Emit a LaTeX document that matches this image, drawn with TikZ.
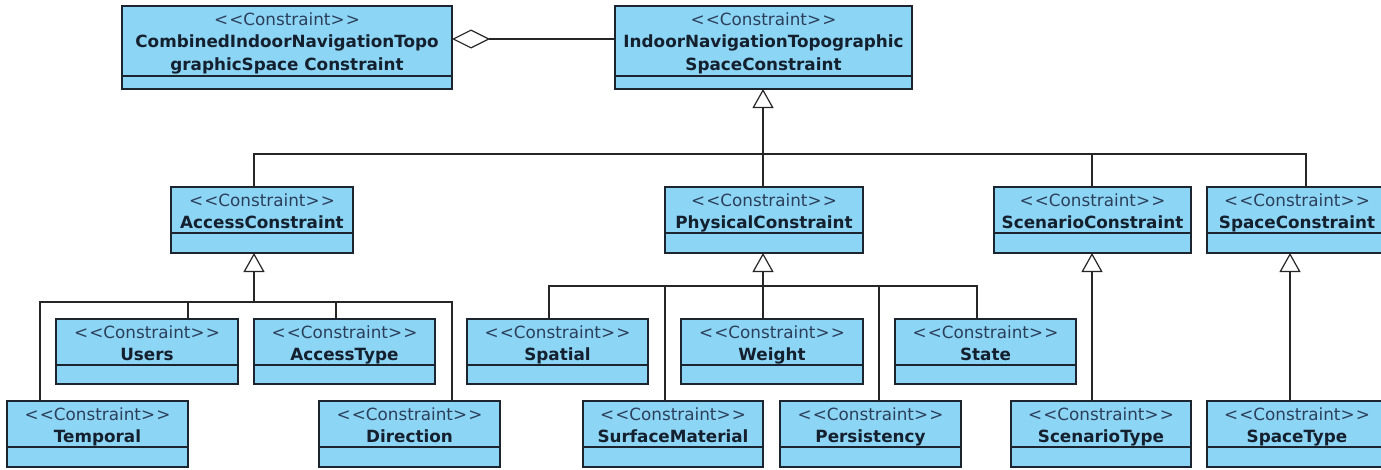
\documentclass[tikz,border=0pt]{standalone}
\usepackage{fontspec}
\newfontfamily\umlfont{DejaVu Sans}
\usetikzlibrary{arrows.meta}

\definecolor{classfill}{HTML}{8DD5F5}
\definecolor{classedge}{HTML}{1C2430}
\definecolor{stereo}{HTML}{2B3F5A}
\definecolor{classname}{HTML}{14202E}

\tikzset{
  classbox/.style={draw=classedge, fill=classfill, line width=1.3pt, inner sep=0pt, outer sep=0pt},
  compartment/.style={draw=classedge, line width=1.1pt},
  stereotext/.style={anchor=base, inner sep=0pt, text=stereo, font=\umlfont\fontsize{16.8}{20}\selectfont},
  nametext/.style={anchor=base, inner sep=0pt, text=classname, font=\umlfont\fontsize{16.8}{20}\selectfont\bfseries},
  link/.style={draw=black!85, line width=1.2pt},
  inherit/.style={link, -{Triangle[length=19pt, width=21pt, fill=white]}},
  aggregate/.style={link, -{Diamond[length=38pt, width=19pt, fill=white]}},
}

% class box: name, left, top, right, bottom, compartment line, name lines
\newcommand{\umlclass}[7]{%
  \node[classbox, minimum width={#4-#2}, minimum height={#5-#3}] (#1) at ({(#2+#4)/2},{(#3+#5)/2}) {};
  \draw[compartment] (#1.west |- 0,#6) -- (#1.east |- 0,#6);
  \node[stereotext] (#1-st) at ({(#2+#4)/2},{#3+19}) {<\kern1.2pt<Constraint>\kern1.2pt>};
  \foreach \nm [count=\k] in {#7} {\node[nametext] (#1-nm\k) at ({(#2+#4)/2},{#3+19+22.5*\k}) {\nm};}
}

\begin{document}
\begin{tikzpicture}[x=1pt, y=-1pt]
  \useasboundingbox[fill=white] (0,0) rectangle (1381,469);

  % top level
  \umlclass{combined}{122}{6}{452}{89}{76}{CombinedIndoorNavigationTopo, graphicSpace Constraint}
  \umlclass{indoor}{615}{6}{912}{89}{76}{IndoorNavigationTopographic, SpaceConstraint}

  % second level
  \umlclass{access}{171}{187}{353}{253}{233}{AccessConstraint}
  \umlclass{physical}{665}{187}{863}{253}{233}{PhysicalConstraint}
  \umlclass{scenario}{994}{187}{1191}{253}{233}{ScenarioConstraint}
  \umlclass{space}{1207}{187}{1387}{253}{233}{SpaceConstraint}

  % third level, upper row
  \umlclass{users}{56}{319}{238}{384}{365}{Users}
  \umlclass{accesstype}{254}{319}{435}{384}{365}{AccessType}
  \umlclass{spatial}{467}{319}{648}{384}{365}{Spatial}
  \umlclass{weight}{681}{319}{863}{384}{365}{Weight}
  \umlclass{state}{895}{319}{1076}{384}{365}{State}

  % third level, lower row
  \umlclass{temporal}{7}{401}{188}{467}{447}{Temporal}
  \umlclass{direction}{319}{401}{500}{467}{447}{Direction}
  \umlclass{surface}{583}{401}{763}{467}{447}{SurfaceMaterial}
  \umlclass{persistency}{780}{401}{961}{467}{447}{Persistency}
  \umlclass{scenariotype}{1011}{401}{1191}{467}{447}{ScenarioType}
  \umlclass{spacetype}{1207}{401}{1387}{467}{447}{SpaceType}

  % aggregation
  \draw[aggregate] (indoor.west |- 0,39) -- (combined.east |- 0,39);

  % generalisations to the topographic space constraint
  \coordinate (topbus) at (763,154);
  \draw[inherit] (topbus) -- (topbus |- indoor.south);
  \draw[link] (access.north -| 254,0) |- (topbus);
  \draw[link] (physical.north -| topbus) -- (topbus);
  \draw[link] (scenario.north -| 1092,0) |- (topbus);
  \draw[link] (space.north -| 1306,0) |- (topbus);

  % access constraints
  \coordinate (accbus) at (254,302);
  \draw[inherit] (accbus) -- (accbus |- access.south);
  \draw[link] (temporal.north -| 40,0) |- (accbus);
  \draw[link] (users.north -| 188,0) |- (accbus);
  \draw[link] (accesstype.north -| 336,0) |- (accbus);
  \draw[link] (direction.north -| 452,0) |- (accbus);

  % physical constraints
  \coordinate (phybus) at (763,286);
  \draw[inherit] (phybus) -- (phybus |- physical.south);
  \draw[link] (spatial.north -| 549,0) |- (phybus);
  \draw[link] (surface.north -| 665,0) |- (phybus);
  \draw[link] (weight.north -| phybus) -- (phybus);
  \draw[link] (persistency.north -| 879,0) |- (phybus);
  \draw[link] (state.north -| 977,0) |- (phybus);

  % scenario and space
  \draw[inherit] (scenariotype.north -| 1092,0) -- (scenario.south -| 1092,0);
  \draw[inherit] (spacetype.north -| 1290,0) -- (space.south -| 1290,0);
\end{tikzpicture}
\end{document}
